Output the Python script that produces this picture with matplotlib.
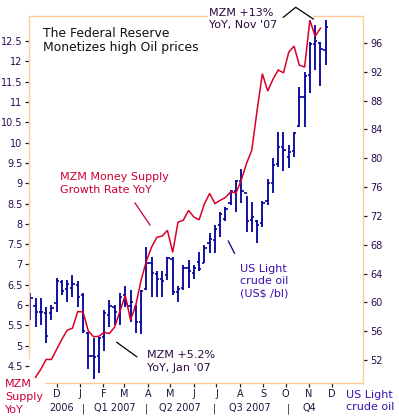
import matplotlib
matplotlib.use('Agg')
import matplotlib.pyplot as plt
import matplotlib.dates as mdates
import numpy as np
import pandas as pd
from matplotlib.lines import Line2D
from matplotlib.patches import Rectangle

# ---------------- data ----------------
week_start = '2006-10-27'
n_weeks = 57

oil_open = [58.9, 59.5, 58.6, 58.5, 58.5, 59.9, 62.8, 61.8, 62.0, 62.4,
            61.0, 55.7, 52.5, 52.5, 55.2, 58.3, 59.4, 58.2, 61.0, 59.5,
            59.4, 57.2, 61.8, 65.5, 64.0, 63.3, 63.8, 66.0, 61.4, 62.0,
            64.8, 64.1, 65.6, 65.5, 68.3, 68.6, 70.8, 71.5, 73.8, 75.5,
            76.8, 75.2, 71.4, 71.3, 71.0, 74.0, 76.5, 79.2, 81.6, 80.2,
            81.0, 84.5, 88.5, 91.5, 95.9, 96.0, 95.0]
oil_high = [61.3, 60.6, 60.6, 59.4, 59.6, 63.4, 63.1, 63.1, 63.8, 62.9,
            61.3, 55.9, 55.0, 55.2, 58.9, 60.3, 59.6, 61.3, 62.2, 61.7,
            59.6, 61.7, 67.7, 66.3, 64.3, 64.3, 66.3, 66.3, 62.2, 65.2,
            65.9, 65.2, 67.0, 68.0, 69.6, 70.8, 72.6, 73.2, 75.6, 77.0,
            78.5, 74.7, 73.9, 71.4, 74.1, 77.1, 80.0, 83.7, 83.6, 81.9,
            83.7, 89.9, 92.0, 96.1, 98.5, 96.2, 99.2]
oil_low = [57.6, 56.6, 56.9, 54.3, 57.6, 58.7, 61.0, 60.1, 60.8, 59.4,
           55.7, 50.8, 49.3, 50.2, 53.2, 56.6, 56.9, 56.9, 59.4, 57.3,
           55.7, 55.6, 61.7, 60.8, 60.8, 60.8, 63.1, 61.0, 60.1, 61.7,
           62.0, 63.3, 64.3, 65.4, 66.8, 66.8, 69.1, 71.3, 73.5, 72.6,
           73.8, 69.8, 69.8, 68.2, 70.5, 73.5, 75.2, 78.8, 78.2, 78.6,
           80.2, 84.4, 84.4, 89.1, 92.2, 90.0, 93.0]
oil_close = [60.6, 58.7, 58.6, 55.3, 59.2, 63.0, 61.6, 62.5, 62.6, 60.8,
             56.0, 52.5, 52.4, 55.0, 58.5, 59.5, 58.7, 60.8, 59.7, 60.1,
             57.2, 61.6, 65.5, 64.1, 63.3, 62.9, 66.1, 61.5, 61.8, 64.7,
             64.4, 64.8, 64.6, 67.6, 68.8, 70.2, 72.3, 72.9, 75.4, 76.8,
             75.4, 71.3, 71.8, 70.8, 73.8, 76.5, 79.0, 81.6, 81.2, 80.9,
             83.5, 88.5, 91.4, 95.9, 96.3, 95.1, 98.2]

# MZM YoY growth (%), weekly, starting one week after the first oil bar
mzm_yoy = [4.22, 4.42, 4.66, 4.66, 4.91, 5.16, 5.38, 5.43, 5.84, 5.83,
           5.36, 5.22, 5.23, 5.33, 5.30, 5.46, 5.85, 6.24, 5.63, 6.00,
           6.61, 7.08, 7.43, 7.67, 7.70, 7.84, 7.30, 8.04, 8.09, 8.33,
           8.17, 8.10, 8.49, 8.75, 8.50, 8.58, 8.65, 8.79, 8.76, 9.08,
           9.49, 9.82, 10.80, 11.70, 11.27, 11.56, 11.79, 11.72, 12.23, 12.38,
           11.91, 11.86, 13.02, 12.62, 12.82]

left_ticks = [4.5, 5, 5.5, 6, 6.5, 7, 7.5, 8, 8.5, 9, 9.5, 10, 10.5, 11, 11.5, 12, 12.5]
right_ticks = [52, 56, 60, 64, 68, 72, 76, 80, 84, 88, 92, 96]
month_starts = ['2006-12-01', '2007-01-01', '2007-02-01', '2007-03-01', '2007-04-01',
                '2007-05-01', '2007-06-01', '2007-07-01', '2007-08-01', '2007-09-01',
                '2007-10-01', '2007-11-01', '2007-12-01']
month_labels = ['D', 'J', 'F', 'M', 'A', 'M', 'J', 'J', 'A', 'S', 'O', 'N', 'D']
period_labels = ['2006', '|', 'Q1 2007', '|', 'Q2 2007', '|', 'Q3 2007', '|', 'Q4']

# ---------------- figure ----------------
W, H = 399, 417
fig = plt.figure(figsize=(W / 100, H / 100), dpi=100)
fig.patch.set_facecolor('white')

def fx(px):
    return px / W

def fy(py):
    return 1 - py / H

rect = [fx(29), fy(383), fx(363) - fx(29), fy(16) - fy(383)]
ax = fig.add_axes(rect)
ax2 = ax.twinx()
ax.set_zorder(2)
ax.patch.set_visible(False)
ax2.set_zorder(1)

dates = pd.date_range(week_start, periods=n_weeks, freq='7D')
xd = mdates.date2num(dates.to_pydatetime())
mzm_x = xd[1:1 + len(mzm_yoy)]

ORANGE = '#ffcc99'
RED = '#d8002a'
NAVY = '#000099'
TICKC = '#2a0a50'
CRIMSON = '#cc0033'
BLUETXT = '#3a10b0'
DARKTXT = '#2b0a3d'

# oil OHLC bars on right axis
tick_len = 3.0
ax2.vlines(xd, oil_low, oil_high, color=NAVY, lw=1.3)
ax2.hlines(oil_open, xd - tick_len, xd, color=NAVY, lw=1.2)
ax2.hlines(oil_close, xd, xd + tick_len, color=NAVY, lw=1.2)

# MZM line on left axis
ax.plot(mzm_x, mzm_yoy, color=RED, lw=1.1, solid_joinstyle='miter')

x_left = mdates.date2num(pd.Timestamp('2006-10-25 07:00'))
x_right = mdates.date2num(pd.Timestamp('2008-01-11 12:00'))
ax.set_xlim(x_left, x_right)
ax.set_ylim(4.08, 13.12)
ax2.set_ylim(48.8, 99.75)

# spines
for s in ax2.spines.values():
    s.set_visible(False)
for s in ax.spines.values():
    s.set_color(ORANGE)
    s.set_linewidth(1.0)
ax.spines['left'].set_bounds(4.7, 13.12)
ax.spines['bottom'].set_bounds(mdates.date2num(pd.Timestamp('2006-11-15')), x_right)

# ticks
ax.set_yticks(left_ticks)
ax.set_yticklabels(['%g' % v for v in left_ticks])
ax2.set_yticks(right_ticks)
ax2.set_yticklabels(['%g' % v for v in right_ticks])
ax.set_xticks(mdates.date2num(pd.to_datetime(month_starts).to_pydatetime()))
ax.set_xticklabels(month_labels)

ax.tick_params(axis='y', direction='out', length=2.6, width=0.9, color='#222222',
               labelsize=7, labelcolor=TICKC, pad=2)
ax2.tick_params(axis='y', direction='out', length=2.6, width=0.9, color='#222222',
                labelsize=7, labelcolor=TICKC, pad=2.5)
ax.tick_params(axis='x', direction='out', length=2.6, width=0.9, color='#222222',
               labelsize=7, labelcolor='#1a1a40', pad=2)
for lab in ax.get_yticklabels() + ax2.get_yticklabels() + ax.get_xticklabels():
    lab.set_family('DejaVu Sans')

# period labels (second row)
period_px = [62, 83, 115, 146, 180, 214, 250, 288, 309]
for lab, px in zip(period_labels, period_px):
    fig.text(fx(px), fy(411), lab, ha='center', va='baseline', fontsize=7,
             color='#1a1a40', zorder=6)

# hide part of top spine behind annotation
fig.add_artist(Rectangle((fx(208), fy(19)), fx(313) - fx(208), fy(13) - fy(19),
                         transform=fig.transFigure, facecolor='white',
                         edgecolor='none', zorder=5))

def ftext(px, py, s, size, color, ha='left'):
    fig.text(fx(px), fy(py), s, ha=ha, va='baseline', fontsize=size,
             color=color, zorder=7)

# title
ftext(43, 37.3, 'The Federal Reserve', 8.9, '#111111')
ftext(43, 50.7, 'Monetizes high Oil prices', 8.9, '#111111')

# annotations
ftext(60, 180, 'MZM Money Supply', 8, CRIMSON)
ftext(60, 192.7, 'Growth Rate YoY', 8, CRIMSON)

ftext(240, 271.7, 'US Light', 8, BLUETXT)
ftext(240, 284.5, 'crude oil', 8, BLUETXT)
ftext(240, 296.7, '(US$ /bl)', 8, BLUETXT)

ftext(147, 358.3, 'MZM +5.2%', 8, DARKTXT)
ftext(147, 371.2, "YoY, Jan '07", 8, DARKTXT)

ftext(209, 16, 'MZM +13%', 8, DARKTXT)
ftext(209, 28.3, "YoY, Nov '07", 8, DARKTXT)

ftext(5, 387.3, 'MZM', 8, CRIMSON)
ftext(5, 400, 'Supply', 8, CRIMSON)
ftext(5, 413, 'YoY', 8, CRIMSON)

ftext(346, 397.7, 'US Light', 8, BLUETXT)
ftext(346, 410, 'crude oil', 8, BLUETXT)

def fline(pts, color):
    xs = [fx(p[0]) for p in pts]
    ys = [fy(p[1]) for p in pts]
    fig.add_artist(Line2D(xs, ys, transform=fig.transFigure, color=color,
                          lw=0.9, zorder=7))

fline([(135, 203), (150, 225)], CRIMSON)
fline([(228.3, 241), (234.5, 253.3)], '#000080')
fline([(116.7, 342.3), (136.7, 356.7)], '#000000')
fline([(283.3, 17.3), (295.7, 7.3), (313.3, 19)], '#000000')

fig.savefig('out.png', dpi=100, facecolor='white')
